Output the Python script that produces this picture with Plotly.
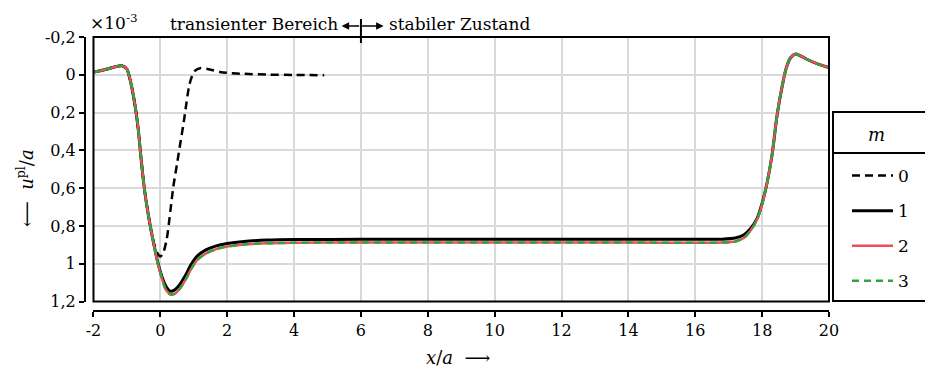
import plotly.graph_objects as go

# ---- data -------------------------------------------------------------
x_ticks = [-2, 0, 2, 4, 6, 8, 10, 12, 14, 16, 18, 20]
x_ticklabels = ["-2", "0", "2", "4", "6", "8", "10", "12", "14", "16", "18", "20"]
y_ticks = [-0.2, 0.0, 0.2, 0.4, 0.6, 0.8, 1.0, 1.2]
y_ticklabels = ["-0,2", "0", "0,2", "0,4", "0,6", "0,8", "1", "1,2"]

# m = 0 (transient run, stops at x/a ~ 5)
m0_x = [-2.0, -1.7, -1.4, -1.15, -1.0, -0.95, -0.85, -0.75, -0.66, -0.59, -0.48,
        -0.38, -0.28, -0.18, -0.1, 0.0, 0.08, 0.19, 0.3, 0.39, 0.5, 0.59, 0.7,
        0.78, 0.86, 0.95, 1.04, 1.19, 1.5, 1.78, 2.0, 2.5, 3.2, 4.0, 4.9]
m0_y = [-0.014, -0.025, -0.04, -0.048, -0.03, -0.005, 0.07, 0.17, 0.29, 0.42, 0.6,
        0.72, 0.82, 0.9, 0.94, 0.962, 0.945, 0.87, 0.72, 0.59, 0.47, 0.37, 0.25,
        0.15, 0.06, 0.005, -0.022, -0.035, -0.027, -0.015, -0.01, -0.005, -0.001,
        0.001, 0.002]

# m = 1
m1_x = [-2.0, -1.7, -1.4, -1.15, -1.0, -0.95, -0.85, -0.75, -0.66, -0.59, -0.48,
        -0.38, -0.28, -0.18, -0.08, 0.05, 0.17, 0.29, 0.42, 0.56, 0.74, 0.92, 1.1,
        1.35, 1.65, 2.0, 2.5, 3.2, 4.0, 6.0, 8.0, 10.0, 12.0, 14.0, 16.0, 16.8, 17.2,
        17.45, 17.65, 17.85, 18.0, 18.15, 18.3, 18.45, 18.6, 18.72, 18.85, 19.0,
        19.15, 19.4, 19.7, 20.0]
m1_y = [-0.014, -0.025, -0.04, -0.048, -0.03, -0.005, 0.07, 0.17, 0.29, 0.42, 0.6,
        0.72, 0.82, 0.91, 0.99, 1.07, 1.12, 1.145, 1.14, 1.115, 1.065, 1.005, 0.96,
        0.928, 0.907, 0.893, 0.882, 0.875, 0.872, 0.871, 0.87, 0.87, 0.87, 0.87,
        0.87, 0.87, 0.864, 0.848, 0.815, 0.76, 0.68, 0.57, 0.42, 0.21, 0.06, -0.035,
        -0.09, -0.11, -0.1, -0.077, -0.055, -0.038]

# m = 2
m2_x = [-2.0, -1.7, -1.4, -1.15, -1.0, -0.95, -0.85, -0.75, -0.66, -0.59, -0.48,
        -0.38, -0.28, -0.18, -0.08, 0.05, 0.17, 0.31, 0.44, 0.58, 0.76, 0.94, 1.12,
        1.37, 1.67, 2.0, 2.5, 3.2, 4.0, 6.0, 8.0, 10.0, 12.0, 14.0, 16.0, 16.8, 17.2,
        17.45, 17.65, 17.85, 18.0, 18.15, 18.3, 18.45, 18.6, 18.72, 18.85, 19.0,
        19.15, 19.4, 19.7, 20.0]
m2_y = [-0.014, -0.025, -0.04, -0.048, -0.03, -0.005, 0.07, 0.17, 0.29, 0.42, 0.6,
        0.72, 0.82, 0.91, 0.995, 1.08, 1.14, 1.163, 1.158, 1.133, 1.083, 1.022, 0.977,
        0.945, 0.923, 0.909, 0.898, 0.892, 0.889, 0.888, 0.888, 0.888, 0.888, 0.888,
        0.889, 0.888, 0.882, 0.864, 0.826, 0.765, 0.685, 0.57, 0.42, 0.21, 0.06,
        -0.035, -0.09, -0.11, -0.1, -0.077, -0.055, -0.038]

# m = 3
m3_x = [-2.0, -1.7, -1.4, -1.15, -1.0, -0.95, -0.85, -0.75, -0.66, -0.59, -0.48,
        -0.38, -0.28, -0.18, -0.08, 0.05, 0.17, 0.31, 0.44, 0.58, 0.76, 0.94, 1.12,
        1.37, 1.67, 2.0, 2.5, 3.2, 4.0, 6.0, 8.0, 10.0, 12.0, 14.0, 16.0, 16.8, 17.2,
        17.45, 17.65, 17.85, 18.0, 18.15, 18.3, 18.45, 18.6, 18.72, 18.85, 19.0,
        19.15, 19.4, 19.7, 20.0]
m3_y = [-0.014, -0.025, -0.04, -0.048, -0.03, -0.005, 0.07, 0.17, 0.29, 0.42, 0.6,
        0.72, 0.82, 0.91, 0.995, 1.08, 1.14, 1.163, 1.158, 1.133, 1.083, 1.022, 0.977,
        0.945, 0.923, 0.909, 0.898, 0.892, 0.889, 0.888, 0.888, 0.888, 0.888, 0.888,
        0.889, 0.888, 0.882, 0.864, 0.826, 0.765, 0.685, 0.57, 0.42, 0.21, 0.06,
        -0.035, -0.09, -0.11, -0.1, -0.077, -0.055, -0.038]

series_names = ["0", "1", "2", "3"]
transition_x = 6  # boundary between transient and steady region

# ---- styling ----------------------------------------------------------
SERIF = "DejaVu Serif"
W, H = 925, 375
ML, MR, MT, MB = 85, 95, 37, 64
PW, PH = W - ML - MR, H - MT - MB


def px_x(px):
    return (px - ML) / PW


def px_y(py):
    return (H - MB - py) / PH


styles = [
    dict(color="black", width=2.5, dash="8px,5px"),
    dict(color="black", width=3, dash="solid"),
    dict(color="#EE4F5C", width=2.5, dash="solid"),
    dict(color="#34A33A", width=2.5, dash="7px,5px"),
]

fig = go.Figure()
for name, xs, ys, st in zip(series_names, [m0_x, m1_x, m2_x, m3_x],
                            [m0_y, m1_y, m2_y, m3_y], styles):
    fig.add_trace(go.Scatter(
        x=xs, y=ys, mode="lines", name=name, legendgroup=name,
        line=dict(color=st["color"], width=st["width"], dash=st["dash"],
                  shape="spline", smoothing=0.8),
    ))

axis_common = dict(
    showgrid=True, gridcolor="#d9d9d9", gridwidth=1.5, zeroline=False,
    showline=True, linecolor="black", linewidth=2,
    ticks="outside", ticklen=5, tickwidth=2, tickcolor="black",
    tickfont=dict(family=SERIF, size=16, color="black"),
    tickmode="array", anchor="free", position=0,
)

fig.update_layout(
    width=W, height=H,
    margin=dict(l=ML, r=MR, t=MT, b=MB),
    plot_bgcolor="white", paper_bgcolor="white",
    xaxis=dict(axis_common, domain=[px_x(93.5), 1], range=[-2, 20],
               tickvals=x_ticks, ticktext=x_ticklabels),
    yaxis=dict(axis_common, domain=[px_y(301.5), 1], range=[1.2, -0.2],
               tickvals=y_ticks, ticktext=y_ticklabels),
    showlegend=True,
    legend=dict(
        x=px_x(847), y=px_y(158), xanchor="left", yanchor="top",
        bgcolor="rgba(0,0,0,0)", borderwidth=0,
        font=dict(family=SERIF, size=17, color="black"),
        itemwidth=41, tracegroupgap=10,
    ),
)

# frame of the plotting area
fig.add_shape(type="rect", xref="x domain", yref="y domain",
              x0=0, x1=1, y0=0, y1=1, line=dict(color="black", width=2),
              layer="above")

# legend frame with header divider and header text
fig.add_shape(type="rect", xref="paper", yref="paper",
              x0=px_x(834), x1=px_x(940), y0=px_y(301), y1=px_y(112),
              line=dict(color="black", width=2))
fig.add_shape(type="line", xref="paper", yref="paper",
              x0=px_x(834), x1=px_x(940), y0=px_y(153), y1=px_y(153),
              line=dict(color="black", width=2))
fig.add_annotation(text="<i>m</i>", xref="paper", yref="paper",
                   x=px_x(878), y=px_y(134), xanchor="center", yanchor="middle",
                   showarrow=False, font=dict(family=SERIF, size=18, color="black"))

# region marker above the plot: bar with arrows pointing to both regions
fig.add_shape(type="line", xref="x", yref="paper",
              x0=transition_x, x1=transition_x, y0=px_y(43), y1=px_y(19),
              line=dict(color="black", width=2))

ty = px_y(24)
fig.add_annotation(text="transienter Bereich", xref="paper", yref="paper",
                   x=px_x(340), y=ty, xanchor="right", yanchor="middle",
                   showarrow=False, font=dict(family=SERIF, size=17, color="black"))
fig.add_annotation(text="stabiler Zustand", xref="paper", yref="paper",
                   x=px_x(387), y=ty, xanchor="left", yanchor="middle",
                   showarrow=False, font=dict(family=SERIF, size=17, color="black"))
arrow_y = px_y(26)
fig.add_annotation(text="", xref="paper", yref="paper", x=px_x(342), y=arrow_y,
                   ax=19, ay=0, showarrow=True, arrowhead=2, arrowsize=1,
                   arrowwidth=1.5, arrowcolor="black", standoff=0, startstandoff=0)
fig.add_annotation(text="", xref="paper", yref="paper", x=px_x(384), y=arrow_y,
                   ax=-23, ay=0, showarrow=True, arrowhead=2, arrowsize=1,
                   arrowwidth=1.5, arrowcolor="black", standoff=0, startstandoff=0)

fig.add_annotation(text="×10<sup>-3</sup>", xref="paper", yref="paper",
                   x=px_x(88), y=px_y(22), xanchor="left", yanchor="middle",
                   showarrow=False, font=dict(family=SERIF, size=17, color="black"))

# axis titles
fig.add_annotation(text="⟵  <i>u</i><sup>pl</sup>/<i>a</i>", xref="paper", yref="paper",
                   x=px_x(25), y=px_y(188), xanchor="center", yanchor="middle",
                   textangle=-90, showarrow=False,
                   font=dict(family=SERIF, size=18, color="black"))
fig.add_annotation(text="<i>x</i>/<i>a</i>  ⟶", xref="paper", yref="paper",
                   x=px_x(459), y=px_y(357), xanchor="center", yanchor="middle",
                   showarrow=False, font=dict(family=SERIF, size=18, color="black"))

fig.write_html("out.html")
